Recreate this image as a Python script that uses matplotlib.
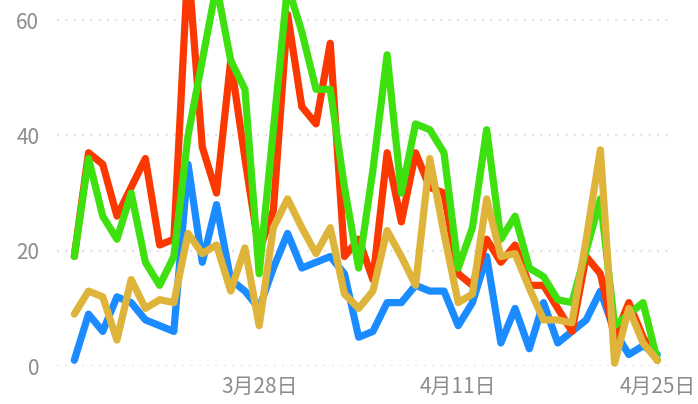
import matplotlib
matplotlib.use("Agg")
import matplotlib.pyplot as plt
import pandas as pd

plt.rcParams['font.family'] = ['Noto Sans CJK SC', 'DejaVu Sans']

dates = pd.date_range("2024-03-15", "2024-04-25", freq="D")

blue = [1, 9, 6, 12, 11, 8, 7, 6, 35, 18, 28, 15, 13, 10, 17, 23, 17, 18, 19, 16, 5,
        6, 11, 11, 14, 13, 13, 7, 11, 19, 4, 10, 3, 11, 4, 6, 8, 13, 6, 2, 3.5, 2]
red = [19, 37, 35, 26, 31, 36, 21, 22, 70, 38, 30, 53, 36, 20, 27, 61, 45, 42, 56, 19, 22,
       15, 37, 25, 37, 31, 30, 16, 14, 22, 18, 21, 14, 14, 10, 6, 19, 16, 5, 11, 5, 1]
green = [19, 36, 26, 22, 30, 18, 14, 19, 40, 53, 66, 53, 48, 16, 41, 66, 58, 48, 48, 31, 17,
         34, 54, 30, 42, 41, 37, 17, 24, 41, 22, 26, 17, 15.5, 11.5, 11, 20, 29, 7, 9, 11, 1]
gold = [9, 13, 12, 4.5, 15, 10, 11.5, 11, 23, 19.5, 21, 13, 20.5, 7, 24, 29, 24, 19.5, 24, 12.5, 10,
        13, 23.5, 19, 14, 36, 23, 11, 12.5, 29, 19, 19.5, 13.5, 8, 8, 7.5, 22, 37.5, 0.5, 10, 4, 1]

series = [(blue, "#1a8cff"), (red, "#fa3800"), (green, "#3ee010"), (gold, "#dfb43a")]
tick_dates = pd.to_datetime(["2024-03-28", "2024-04-11", "2024-04-25"])
y_ticks = [0, 20, 40, 60]

fig = plt.figure(figsize=(6.98, 4.04), dpi=100)
ax = fig.add_axes([0.082, 0.094, 0.878, 0.906])

for values, color in series:
    ax.plot(dates, values, color=color, lw=5.2, solid_joinstyle="round",
            solid_capstyle="round", clip_on=False)

ax.set_ylim(0, 63.5)
ax.set_xlim(dates[0] - pd.Timedelta(days=1.2), dates[-1] + pd.Timedelta(days=0.9))

ax.set_yticks(y_ticks)
ax.set_xticks(tick_dates)
ax.set_xticklabels([f"{d.month}月{d.day}日" for d in tick_dates])
ax.tick_params(axis="both", length=0, labelsize=15, colors="#8c8c8c")
ax.tick_params(axis="y", pad=13)
ax.tick_params(axis="x", pad=7)

# faint dotted horizontal grid
ax.grid(axis="y", linestyle=(0, (1, 3)), color="#e2e2e2", lw=1.5)
ax.set_axisbelow(True)
for s in ax.spines.values():
    s.set_visible(False)

fig.savefig("out.png", dpi=100)
